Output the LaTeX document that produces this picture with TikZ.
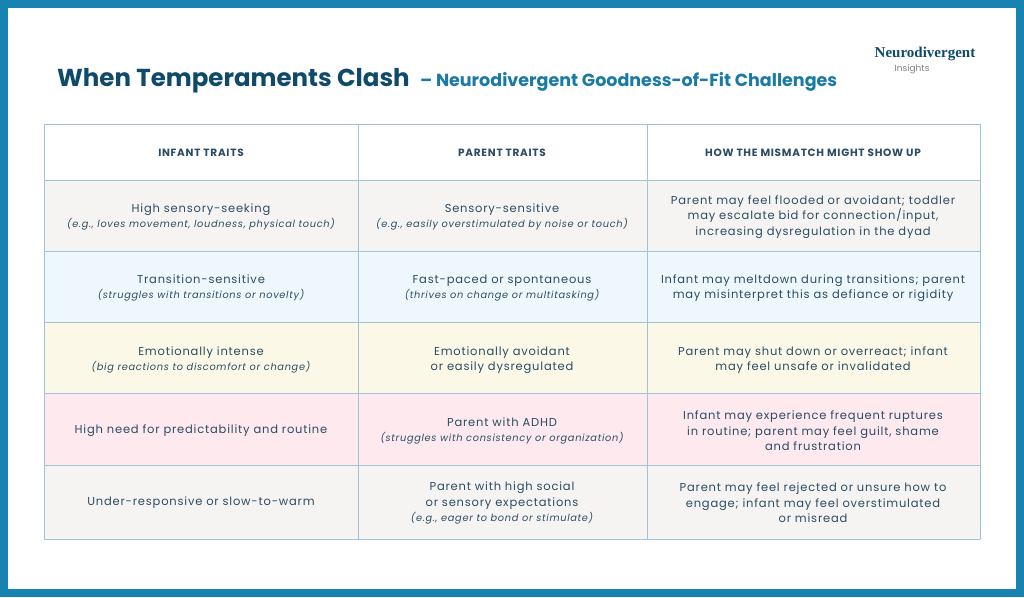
\documentclass[tikz,border=0pt]{standalone}
\usepackage{fontspec}
\setmainfont{Poppins}[LetterSpace=7]
\newfontfamily\titlefont{Poppins}
\newfontfamily\logofont{Liberation Serif}
\usetikzlibrary{positioning}
\definecolor{frame}{HTML}{1783B0}
\definecolor{ink}{HTML}{2B4D63}
\definecolor{titleblue}{HTML}{0F4A6B}
\definecolor{subblue}{HTML}{1A7AA6}
\definecolor{gridline}{HTML}{9FC4D8}
\definecolor{rowgrey}{HTML}{F5F4F2}
\definecolor{rowblue}{HTML}{EEF7FC}
\definecolor{rowcream}{HTML}{FBF8E8}
\definecolor{rowpink}{HTML}{FDE9EE}
\tikzset{
  cell/.style={align=center,text=ink,font=\fontsize{11.5}{15.5}\selectfont},
  head/.style={cell,font=\fontsize{10.5}{14}\selectfont\bfseries},
}
\newcommand{\ex}[1]{{\fontsize{9.8}{15.5}\selectfont\itshape #1}}
\begin{document}
\begin{tikzpicture}[x=1pt,y=-1pt]
\useasboundingbox (0,0) rectangle (1024,597);
% frame
\fill[frame] (0,0) rectangle (1024,597);
\fill[white] (8,8) rectangle (1016,589);
% title
\node[anchor=base west,inner sep=0,text=titleblue,font=\titlefont\fontsize{24.5}{28}\selectfont\bfseries] (title) at (57,86) {When Temperaments Clash};
\node[inner sep=0,text=subblue,font=\titlefont\fontsize{17.5}{20}\selectfont\bfseries,right=10pt of title.base east,anchor=base west] (subtitle) {– Neurodivergent Goodness-of-Fit Challenges};
\node[inner sep=0,text=titleblue,font=\logofont\fontsize{15}{16}\selectfont\bfseries] (logo) at (925,54) {Neurodivergent};
\node[inner sep=0,text=gray,font=\titlefont\fontsize{9}{10}\selectfont,below=3pt of logo.south west,anchor=north west,xshift=20pt] (logo2) {Insights};
% rows
\foreach \ya/\yb/\col in {124/180/white,180/251/rowgrey,251/322/rowblue,322/393/rowcream,393/465/rowpink,465/539/rowgrey}
  \fill[\col] (44,\ya) rectangle (980,\yb);
\foreach \y in {124,180,251,322,393,465,539}
  \draw[gridline,line width=1pt] (44,\y) -- (980,\y);
\foreach \x in {44,358,647,980}
  \draw[gridline,line width=1pt] (\x,124) -- (\x,539);
% header
\node[head] (h1) at (201,153) {INFANT TRAITS};
\node[head] (h2) at (502,153) {PARENT TRAITS};
\node[head] (h3) at (813,153) {HOW THE MISMATCH MIGHT SHOW UP};
% row 1
\node[cell] (a1) at (201,217) {High sensory-seeking\\\ex{(e.g., loves movement, loudness, physical touch)}};
\node[cell] (b1) at (502,217) {Sensory-sensitive\\\ex{(e.g., easily overstimulated by noise or touch)}};
\node[cell] (c1) at (813,217) {Parent may feel flooded or avoidant; toddler\\may escalate bid for connection/input,\\increasing dysregulation in the dyad};
% row 2
\node[cell] (a2) at (201,288) {Transition-sensitive\\\ex{(struggles with transitions or novelty)}};
\node[cell] (b2) at (502,288) {Fast-paced or spontaneous\\\ex{(thrives on change or multitasking)}};
\node[cell] (c2) at (813,288) {Infant may meltdown during transitions; parent\\may misinterpret this as defiance or rigidity};
% row 3
\node[cell] (a3) at (201,360) {Emotionally intense\\\ex{(big reactions to discomfort or change)}};
\node[cell] (b3) at (502,360) {Emotionally avoidant\\or easily dysregulated};
\node[cell] (c3) at (813,360) {Parent may shut down or overreact; infant\\may feel unsafe or invalidated};
% row 4
\node[cell] (a4) at (201,431) {High need for predictability and routine};
\node[cell] (b4) at (502,431) {Parent with ADHD\\\ex{(struggles with consistency or organization)}};
\node[cell] (c4) at (813,431) {Infant may experience frequent ruptures\\in routine; parent may feel guilt, shame\\and frustration};
% row 5
\node[cell] (a5) at (201,503) {Under-responsive or slow-to-warm};
\node[cell] (b5) at (502,503) {Parent with high social\\or sensory expectations\\\ex{(e.g., eager to bond or stimulate)}};
\node[cell] (c5) at (813,503) {Parent may feel rejected or unsure how to\\engage; infant may feel overstimulated\\or misread};
\end{tikzpicture}
\end{document}
